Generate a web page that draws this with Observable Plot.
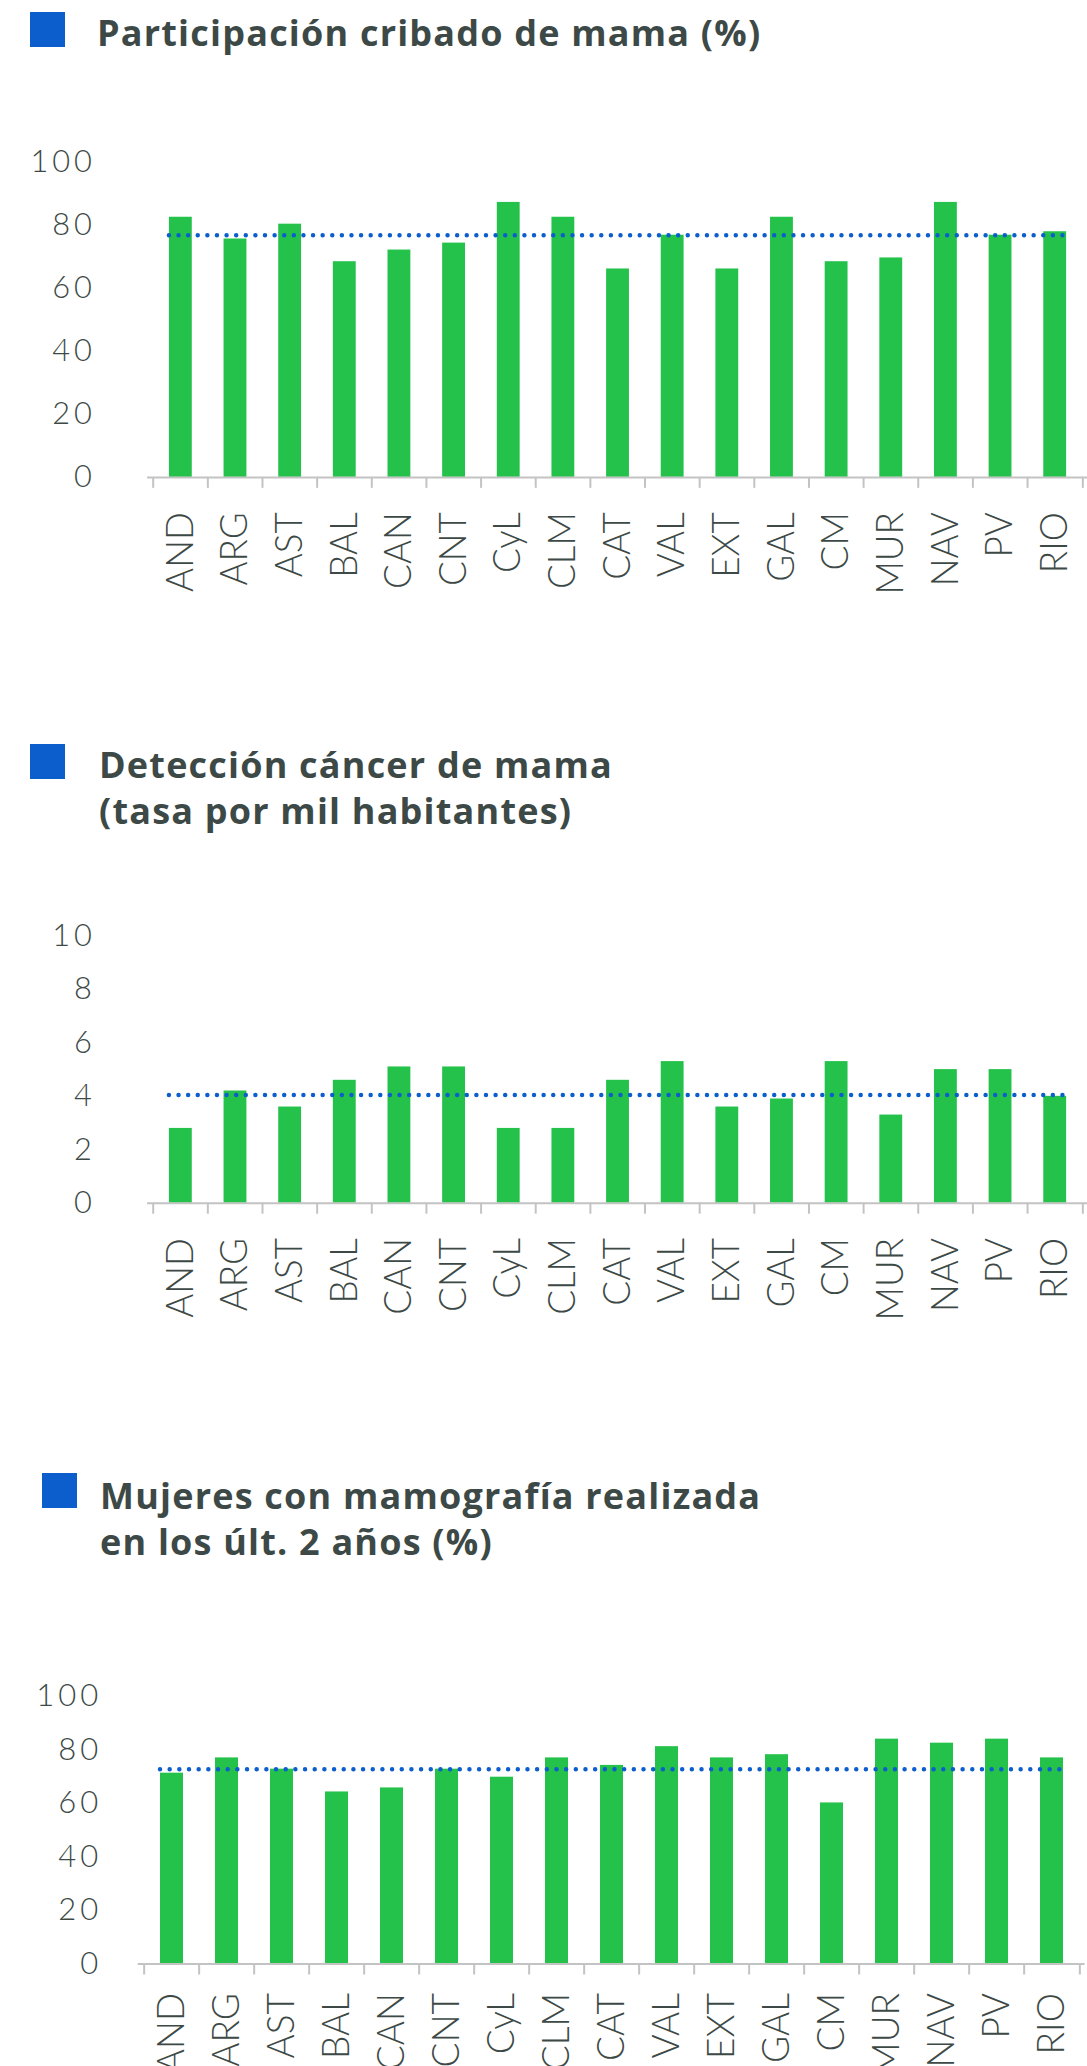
<!DOCTYPE html>
<html><head><meta charset="utf-8">
<script src="https://cdn.jsdelivr.net/npm/d3@7"></script>
<script src="https://cdn.jsdelivr.net/npm/@observablehq/plot@0.6"></script>
<style>
html,body{margin:0;padding:0;background:#fff;overflow:hidden;width:1087px;height:2066px;}
#root{position:relative;width:1087px;height:2066px;overflow:hidden;}
.sq{position:absolute;width:35px;height:35px;background:#0b5ecc;}
.title{position:absolute;font-family:"Open Sans",sans-serif;font-weight:700;font-size:36px;line-height:46px;letter-spacing:1.2px;color:#3d4946;white-space:pre;}
.chart{position:absolute;left:0;}
.chart g[aria-label="y-axis tick label"] text{letter-spacing:4px;}
</style></head><body><div id="root"></div>
<script>
const regions = ["AND","ARG","AST","BAL","CAN","CNT","CyL","CLM","CAT","VAL","EXT","GAL","CM","MUR","NAV","PV","RIO"];
const participacion = [82.5,75.6,80.3,68.4,72.1,74.3,87.2,82.5,66.1,76.8,66.1,82.5,68.4,69.6,87.2,76.8,77.9];
const participacionMedia = 76.8;
const deteccion = [2.8,4.2,3.6,4.6,5.1,5.1,2.8,2.8,4.6,5.3,3.6,3.9,5.3,3.3,5.0,5.0,4.0];
const deteccionMedia = 4.05;
const mamografia = [71.2,76.9,72.7,64.2,65.7,72.7,69.7,76.9,74.1,81.1,76.9,78.1,60.1,83.9,82.4,83.9,76.9];
const mamografiaMedia = 72.7;
const yTicksPct = [0,20,40,60,80,100];
const yTicksTasa = [0,2,4,6,8,10];
const titles = [
  "Participación cribado de mama (%)",
  "Detección cáncer de mama\n(tasa por mil habitantes)",
  "Mujeres con mamografía realizada\nen los últ. 2 años (%)"
];

const GREEN = "#24c24a", BLUE = "#0b5ecc", AXIS = "#c3c3c3", TEXT = "#3d4946";
const root = document.getElementById("root");

function addTitle(text, sqLeft, sqTop, tLeft, tTop) {
  const s = document.createElement("div");
  s.className = "sq"; s.style.left = sqLeft + "px"; s.style.top = sqTop + "px";
  root.appendChild(s);
  const t = document.createElement("div");
  t.className = "title"; t.style.left = tLeft + "px"; t.style.top = tTop + "px";
  t.textContent = text;
  root.appendChild(t);
}

function chart(o) {
  const data = regions.map((r, i) => ({region: r, value: o.values[i]}));
  const step = (o.width - o.marginLeft - o.marginRight) / regions.length;
  const last = regions[regions.length - 1];
  const svg = Plot.plot({
    width: o.width, height: o.height,
    marginLeft: o.marginLeft, marginRight: o.marginRight,
    marginTop: o.marginTop, marginBottom: o.marginBottom,
    style: {fontFamily: "Lato, sans-serif", color: TEXT, background: "transparent"},
    x: {domain: regions, paddingInner: 0.587, paddingOuter: 0.2935},
    y: {domain: o.yDomain},
    marks: [
      Plot.axisY({ticks: o.yTicks, tickSize: 0, tickPadding: o.yPad, fontSize: 31, fontWeight: 300, label: null}),
      Plot.axisX({tickSize: 0, tickPadding: o.xPad, tickRotate: -90, fontSize: 37, fontWeight: 300, label: null}),
      Plot.barY(data, {x: "region", y: "value", fill: GREEN}),
      Plot.ruleY([0], {stroke: AXIS, strokeWidth: 2}),
      Plot.ruleX(regions, {x: d => d, y1: () => 0, y2: () => 0, insetBottom: -11, dx: -step / 2, stroke: AXIS, strokeWidth: 2}),
      Plot.ruleX([last], {x: d => d, y1: () => 0, y2: () => 0, insetBottom: -11, dx: step / 2, stroke: AXIS, strokeWidth: 2}),
      Plot.ruleY([o.mean], {y: d => d, x1: () => regions[0], x2: () => last,
        stroke: BLUE, strokeWidth: 4.5, strokeDasharray: "0 9.67", strokeLinecap: "round"})
    ]
  });
  svg.classList.add("chart");
  svg.style.top = o.top + "px";
  root.appendChild(svg);
}

addTitle(titles[0], 30, 12, 97, 10);
chart({values: participacion, mean: participacionMedia, yDomain: [0, 100], yTicks: yTicksPct,
  top: 0, width: 1094, height: 640, marginLeft: 148, marginRight: 0, marginTop: 162.6, marginBottom: 160,
  yPad: 52, xPad: 35});

addTitle(titles[1], 30, 744, 99, 742);
chart({values: deteccion, mean: deteccionMedia, yDomain: [0, 10], yTicks: yTicksTasa,
  top: 700, width: 1094, height: 640, marginLeft: 148, marginRight: 0, marginTop: 237, marginBottom: 134,
  yPad: 52, xPad: 35});

addTitle(titles[2], 42, 1473, 100, 1473);
chart({values: mamografia, mean: mamografiaMedia, yDomain: [0, 100], yTicks: yTicksPct,
  top: 1400, width: 1087, height: 666, marginLeft: 137.7, marginRight: 2.4, marginTop: 295.5, marginBottom: 102.5,
  yPad: 36, xPad: 29});
</script></body></html>
